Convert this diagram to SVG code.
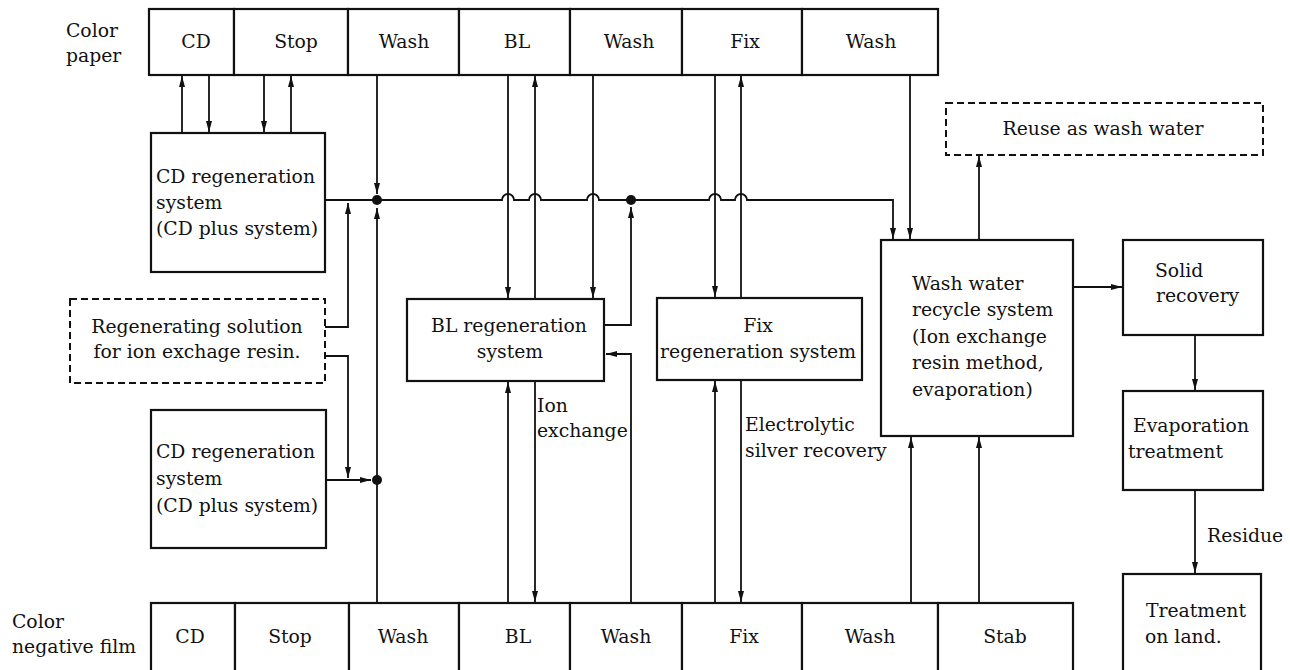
<svg xmlns="http://www.w3.org/2000/svg" width="1290" height="670" viewBox="0 0 1290 670">
<style>
text{font-family:"DejaVu Serif","Liberation Serif",serif;font-size:18.8px;fill:#111}
.c{text-anchor:middle}
.box{fill:#fff;stroke:#111;stroke-width:2.2}
.dash{fill:#fff;stroke:#111;stroke-width:2;stroke-dasharray:7 4}
.ln{fill:none;stroke:#111;stroke-width:1.8}
.ar{marker-end:url(#ah)}
</style>
<defs>
<marker id="ah" viewBox="0 0 11 6" refX="11" refY="3" markerWidth="11" markerHeight="6" markerUnits="userSpaceOnUse" orient="auto">
<path d="M0,0 L11,3 L0,6 z" fill="#111"/>
</marker>
</defs>
<rect width="1290" height="670" fill="#fff"/>

<g id="connectors">
<path class="ln ar" d="M182,133 V76"/>
<path class="ln ar" d="M209,75 V132"/>
<path class="ln ar" d="M264,75 V132"/>
<path class="ln ar" d="M291,133 V76"/>
<path class="ln ar" d="M377,75 V194"/>
<path class="ln ar" d="M325,200 H502 A6,6 0 0 1 514,200 H529 A6,6 0 0 1 541,200 H587 A6,6 0 0 1 599,200 H709 A6,6 0 0 1 721,200 H735 A6,6 0 0 1 747,200 H893 V239"/>
<path class="ln ar" d="M910,75 V239"/>
<path class="ln ar" d="M325,327 H348 V203"/>
<path class="ln ar" d="M377,603 V208"/>
<path class="ln ar" d="M508,75 V298"/>
<path class="ln ar" d="M535,299 V76"/>
<path class="ln ar" d="M593,75 V298"/>
<path class="ln ar" d="M604,325 H631 V207"/>
<path class="ln ar" d="M631,603 V354 H606"/>
<path class="ln ar" d="M508,603 V382"/>
<path class="ln ar" d="M535,381 V602"/>
<path class="ln ar" d="M715,75 V297"/>
<path class="ln ar" d="M741,298 V76"/>
<path class="ln ar" d="M715,603 V381"/>
<path class="ln ar" d="M741,380 V602"/>
<path class="ln ar" d="M325,356 H348 V478"/>
<path class="ln ar" d="M326,480 H371"/>
<path class="ln ar" d="M911,603 V437"/>
<path class="ln ar" d="M979,603 V437"/>
<path class="ln ar" d="M979,240 V156"/>
<path class="ln ar" d="M1073,287 H1122"/>
<path class="ln ar" d="M1195,335 V390"/>
<path class="ln ar" d="M1195,490 V573"/>
<circle cx="377" cy="200" r="5" fill="#111"/>
<circle cx="631" cy="200" r="5" fill="#111"/>
<circle cx="377" cy="480" r="5" fill="#111"/>
<text x="537" y="412">Ion</text>
<text x="537" y="437">exchange</text>
<text x="745" y="431">Electrolytic</text>
<text x="745" y="457">silver recovery</text>
<text x="1207" y="542">Residue</text>
</g>

<g id="label-color-paper">
<text x="66" y="37">Color</text>
<text x="66" y="62">paper</text>
</g>
<g id="label-color-negative-film">
<text x="12" y="628">Color</text>
<text x="12" y="653">negative film</text>
</g>

<g id="top-cd"><rect class="box" x="149" y="9" width="85" height="66"/><text class="c" x="196" y="48">CD</text></g>
<g id="top-stop"><rect class="box" x="234" y="9" width="114" height="66"/><text class="c" x="296" y="48">Stop</text></g>
<g id="top-wash1"><rect class="box" x="348" y="9" width="111" height="66"/><text class="c" x="404" y="48">Wash</text></g>
<g id="top-bl"><rect class="box" x="459" y="9" width="111" height="66"/><text class="c" x="517" y="48">BL</text></g>
<g id="top-wash2"><rect class="box" x="570" y="9" width="112" height="66"/><text class="c" x="629" y="48">Wash</text></g>
<g id="top-fix"><rect class="box" x="682" y="9" width="120" height="66"/><text class="c" x="745" y="48">Fix</text></g>
<g id="top-wash3"><rect class="box" x="802" y="9" width="136" height="66"/><text class="c" x="871" y="48">Wash</text></g>

<g id="bot-cd"><rect class="box" x="151" y="603" width="84" height="72"/><text class="c" x="190" y="643">CD</text></g>
<g id="bot-stop"><rect class="box" x="235" y="603" width="114" height="72"/><text class="c" x="290" y="643">Stop</text></g>
<g id="bot-wash1"><rect class="box" x="349" y="603" width="110" height="72"/><text class="c" x="403" y="643">Wash</text></g>
<g id="bot-bl"><rect class="box" x="459" y="603" width="111" height="72"/><text class="c" x="518" y="643">BL</text></g>
<g id="bot-wash2"><rect class="box" x="570" y="603" width="112" height="72"/><text class="c" x="626" y="643">Wash</text></g>
<g id="bot-fix"><rect class="box" x="682" y="603" width="120" height="72"/><text class="c" x="744" y="643">Fix</text></g>
<g id="bot-wash3"><rect class="box" x="802" y="603" width="136" height="72"/><text class="c" x="870" y="643">Wash</text></g>
<g id="bot-stab"><rect class="box" x="938" y="603" width="135" height="72"/><text class="c" x="1005" y="643">Stab</text></g>

<g id="cd-regen-top"><rect class="box" x="151" y="133" width="174" height="139"/>
<text x="156" y="183">CD regeneration</text><text x="156" y="209">system</text><text x="156" y="235">(CD plus system)</text></g>
<g id="regen-solution"><rect class="dash" x="70" y="299" width="255" height="84"/>
<text class="c" x="197" y="333">Regenerating solution</text><text class="c" x="197" y="358">for ion exchage resin.</text></g>
<g id="cd-regen-bottom"><rect class="box" x="151" y="410" width="175" height="138"/>
<text x="156" y="458">CD regeneration</text><text x="156" y="485">system</text><text x="156" y="512">(CD plus system)</text></g>
<g id="bl-regen"><rect class="box" x="407" y="299" width="197" height="82"/>
<text class="c" x="509" y="332">BL regeneration</text><text class="c" x="510" y="358">system</text></g>
<g id="fix-regen"><rect class="box" x="657" y="298" width="205" height="82"/>
<text class="c" x="758" y="332">Fix</text><text class="c" x="758" y="358">regeneration system</text></g>
<g id="wash-recycle"><rect class="box" x="881" y="240" width="192" height="196"/>
<text x="912" y="290">Wash water</text><text x="912" y="316">recycle system</text><text x="912" y="343">(Ion exchange</text><text x="912" y="369">resin method,</text><text x="912" y="396">evaporation)</text></g>
<g id="reuse"><rect class="dash" x="946" y="103" width="317" height="52"/>
<text class="c" x="1103" y="135">Reuse as wash water</text></g>
<g id="solid"><rect class="box" x="1123" y="240" width="140" height="95"/>
<text x="1155" y="277">Solid</text><text x="1156" y="302">recovery</text></g>
<g id="evap"><rect class="box" x="1123" y="391" width="140" height="99"/>
<text x="1133" y="432">Evaporation</text><text x="1128" y="458">treatment</text></g>
<g id="land"><rect class="box" x="1123" y="574" width="138" height="101"/>
<text x="1146" y="617">Treatment</text><text x="1145" y="643">on land.</text></g>
</svg>
